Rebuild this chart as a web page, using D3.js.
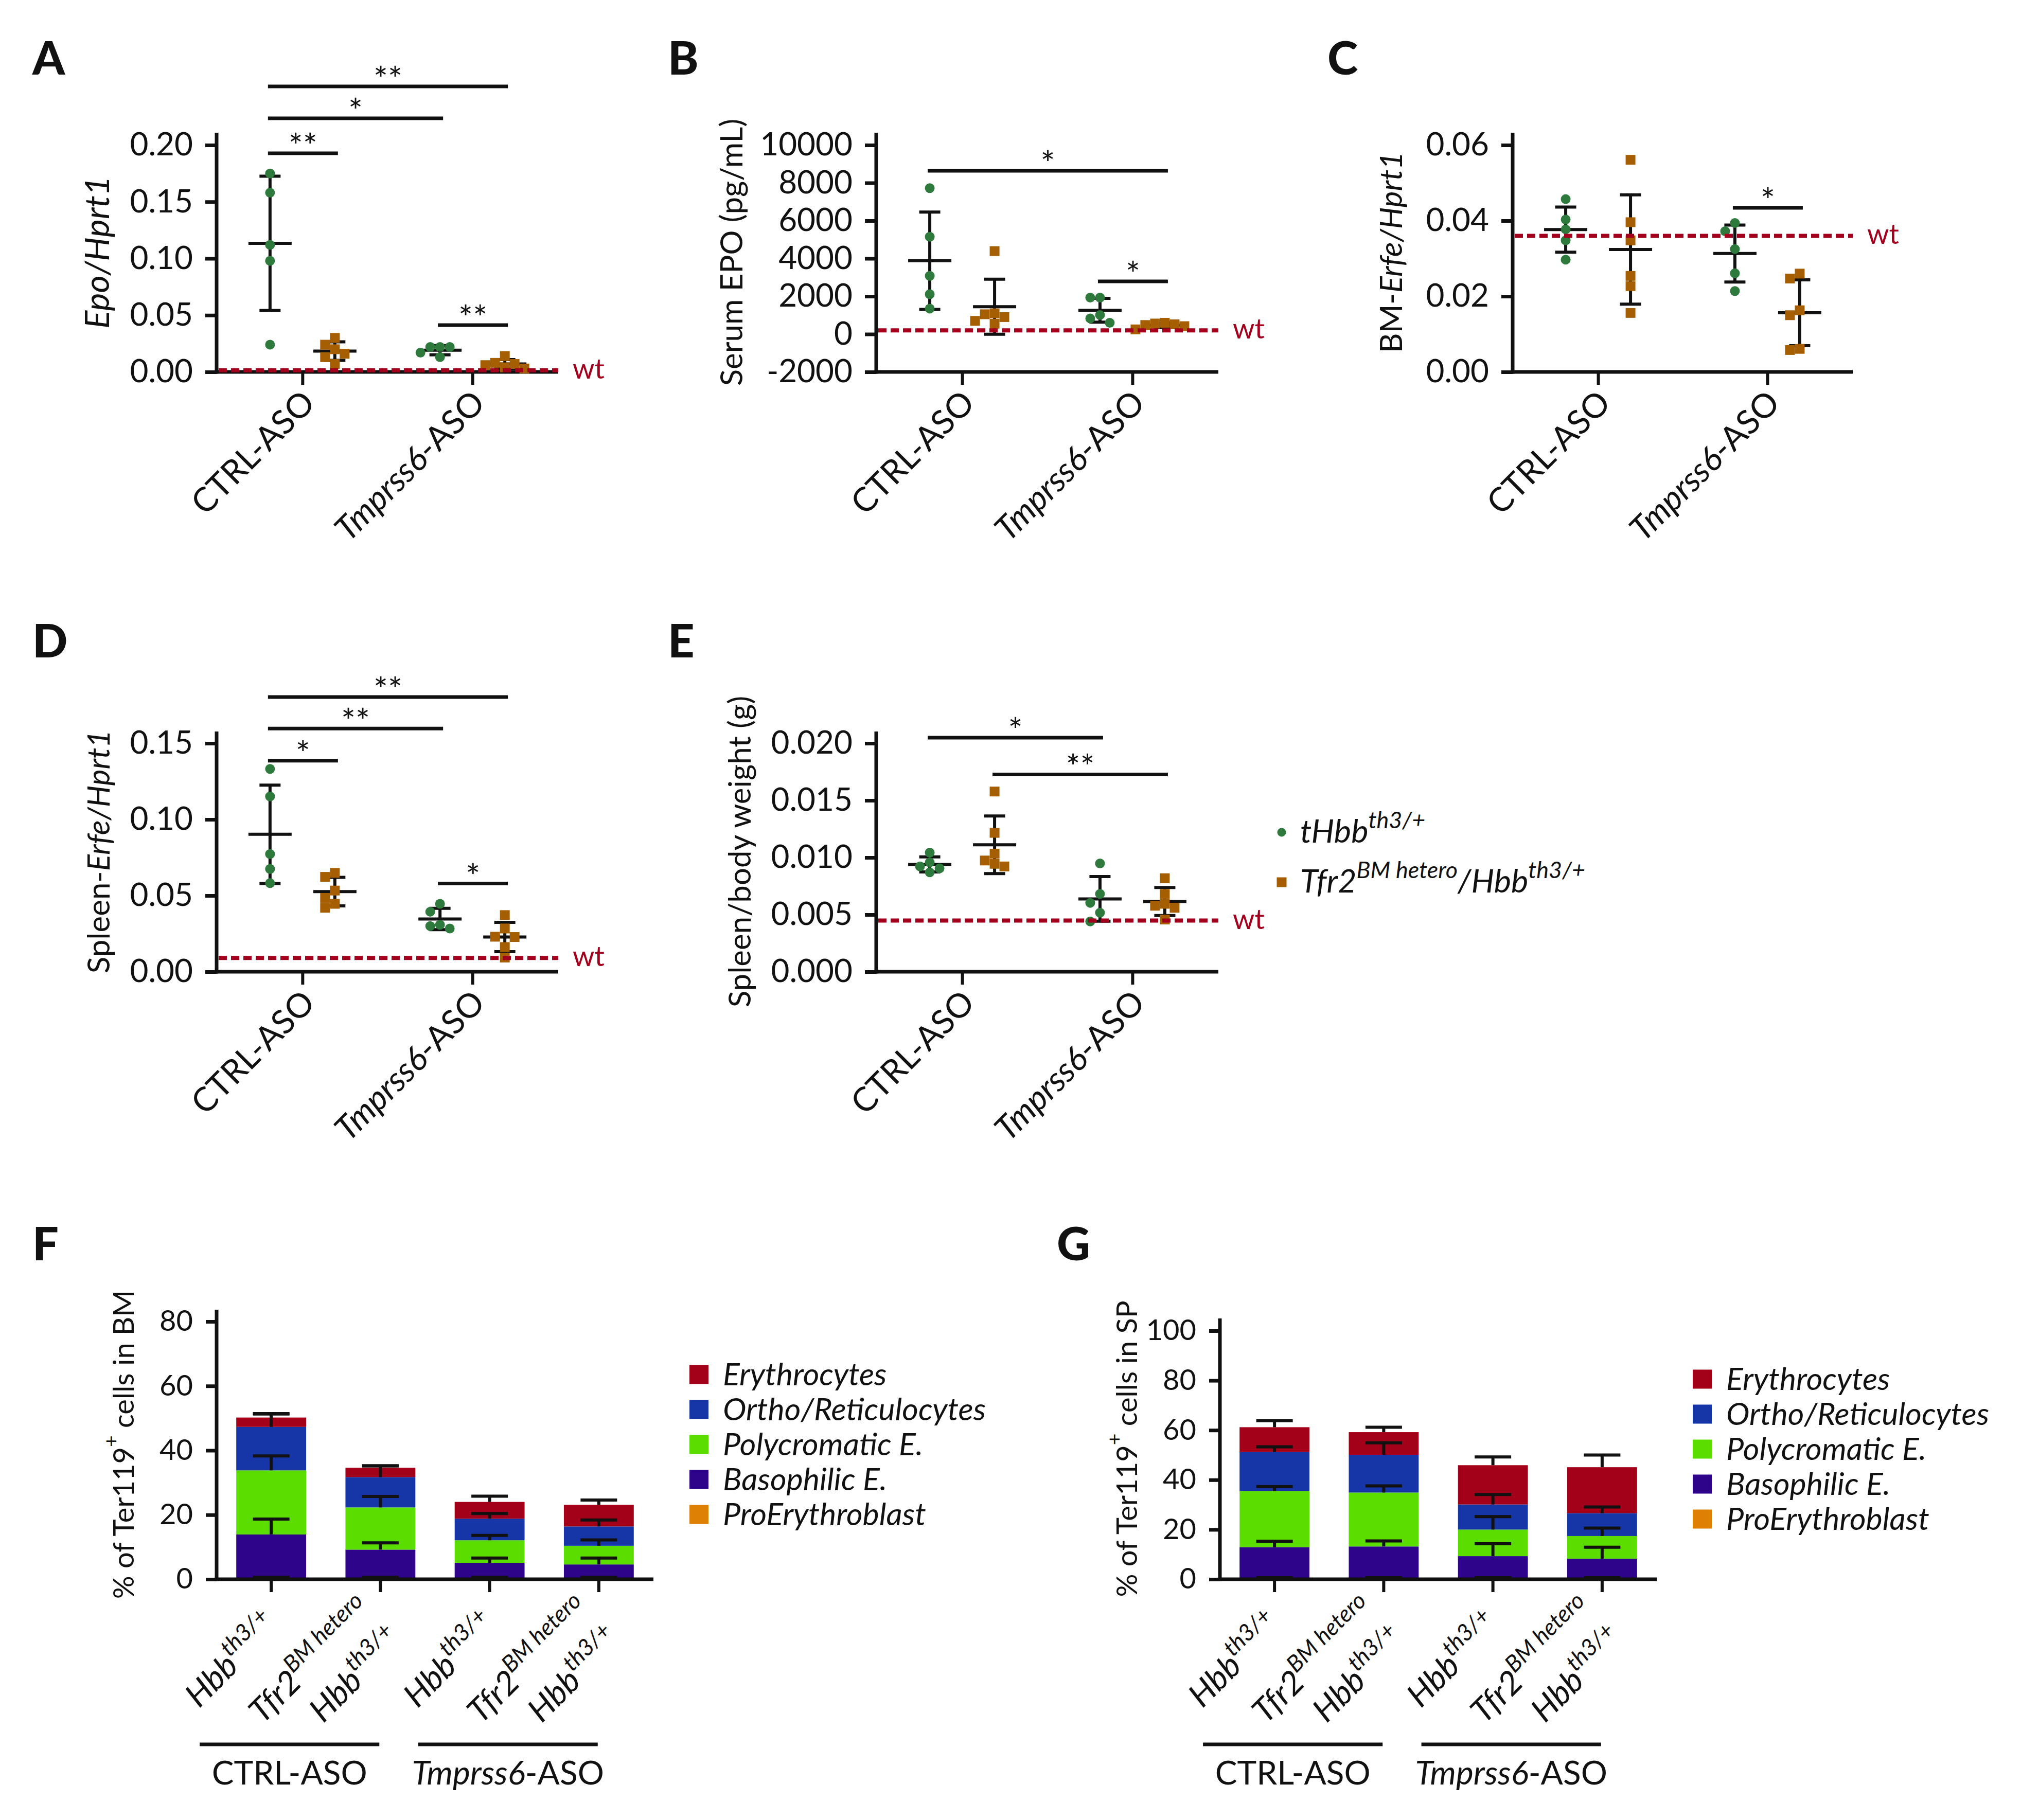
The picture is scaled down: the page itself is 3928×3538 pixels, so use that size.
<!DOCTYPE html>
<html><head><meta charset="utf-8">
<script src="https://cdn.jsdelivr.net/npm/d3@7"></script>
<style>
body{margin:0;background:#fff;}
</style></head><body>
<svg id="fig" width="3928" height="3538" style="background:#fff"></svg>
<script>
// ================= DATA =================
const categories = ["CTRL-ASO", "Tmprss6-ASO"];
const genotypes = ["Hbb th3/+", "Tfr2 BM hetero/Hbb th3/+"];

// A: Epo/Hprt1
const epoCtrlHbb = [0.175, 0.158, 0.112, 0.098, 0.024];
const epoCtrlTfr2 = [0.030, 0.024, 0.020, 0.016, 0.013, 0.007];
const epoTmpHbb = [0.022, 0.022, 0.022, 0.017, 0.013];
const epoTmpTfr2 = [0.014, 0.008, 0.007, 0.006, 0.004, 0.003];
const epoWt = 0.0015;
const epoTicks = [0, 0.05, 0.10, 0.15, 0.20];
const sigA = [
  {from: [0, 0], to: [1, 1], level: 0.2517, mark: "**"},
  {from: [0, 0], to: [1, 0], level: 0.2236, mark: "*"},
  {from: [0, 0], to: [0, 1], level: 0.1927, mark: "**"},
  {from: [1, 0], to: [1, 1], level: 0.0413, mark: "**"}
];

// B: Serum EPO (pg/mL)
const serumCtrlHbb = [7720, 5150, 3080, 2110, 1350];
const serumCtrlTfr2 = [4390, 1100, 1050, 900, 700, 550];
const serumTmpHbb = [1930, 1930, 1010, 830, 600];
const serumTmpTfr2 = [600, 560, 520, 480, 420, 250];
const serumWt = 200;
const serumTicks = [-2000, 0, 2000, 4000, 6000, 8000, 10000];
const sigB = [
  {from: [0, 0], to: [1, 1], level: 8640, mark: "*"},
  {from: [1, 0], to: [1, 1], level: 2790, mark: "*"}
];

// C: BM-Erfe/Hprt1
const bmErfeCtrlHbb = [0.0457, 0.0403, 0.0377, 0.0348, 0.0297];
const bmErfeCtrlTfr2 = [0.0561, 0.0396, 0.0348, 0.0254, 0.0227, 0.0156];
const bmErfeTmpHbb = [0.0394, 0.0372, 0.0325, 0.0261, 0.0214];
const bmErfeTmpTfr2 = [0.0260, 0.0247, 0.0163, 0.0150, 0.0061, 0.0058];
const bmErfeWt = 0.036;
const bmErfeTicks = [0, 0.02, 0.04, 0.06];
const sigC = [{from: [1, 0], to: [1, 1], level: 0.0434, mark: "*"}];

// D: Spleen-Erfe/Hprt1
const spErfeCtrlHbb = [0.1332, 0.1151, 0.0773, 0.0675, 0.0582];
const spErfeCtrlTfr2 = [0.0649, 0.0623, 0.0533, 0.0485, 0.0446, 0.0420];
const spErfeTmpHbb = [0.0446, 0.0394, 0.0308, 0.0300, 0.0284];
const spErfeTmpTfr2 = [0.0372, 0.0284, 0.0230, 0.0228, 0.0162, 0.0093];
const spErfeWt = 0.009;
const spErfeTicks = [0, 0.05, 0.10, 0.15];
const sigD = [
  {from: [0, 0], to: [1, 1], level: 0.1804, mark: "**"},
  {from: [0, 0], to: [1, 0], level: 0.1597, mark: "**"},
  {from: [0, 0], to: [0, 1], level: 0.1386, mark: "*"},
  {from: [1, 0], to: [1, 1], level: 0.0579, mark: "*"}
];

// E: Spleen/body weight (g)
const swCtrlHbb = [0.01043, 0.00957, 0.00922, 0.00905, 0.00870];
const swCtrlTfr2 = [0.01578, 0.01216, 0.01034, 0.00974, 0.00945, 0.00922];
const swTmpHbb = [0.00948, 0.00681, 0.00603, 0.00517, 0.00440];
const swTmpTfr2 = [0.00819, 0.00681, 0.00595, 0.00578, 0.00560, 0.00457];
const swWt = 0.00448;
const swTicks = [0, 0.005, 0.010, 0.015, 0.020];
const sigE = [
  {from: [0, 0], to: [1, 0], level: 0.0205, mark: "*"},
  {from: [0, 1], to: [1, 1], level: 0.01728, mark: "**"}
];

// F/G: stacked erythroid stages
const barGroups = ["CTRL Hbb", "CTRL Tfr2/Hbb", "Tmprss6 Hbb", "Tmprss6 Tfr2/Hbb"];
const stageKeys = ["ProErythroblast", "Basophilic E.", "Polycromatic E.", "Ortho/Reticulocytes", "Erythrocytes"];
const legendOrder = ["Erythrocytes", "Ortho/Reticulocytes", "Polycromatic E.", "Basophilic E.", "ProErythroblast"];

const bmPro = [0.2, 0.2, 0.2, 0.2];
const bmBaso = [13.7, 9.0, 4.9, 4.4];
const bmPoly = [19.9, 13.1, 7.0, 5.8];
const bmOrtho = [13.5, 9.4, 6.7, 6.0];
const bmEry = [2.9, 2.9, 5.2, 6.7];
const bmProErr = [0.4, 0.4, 0.4, 0.4];
const bmBasoErr = [4.8, 2.1, 1.5, 2.0];
const bmPolyErr = [4.5, 3.4, 1.5, 1.8];
const bmOrthoErr = [4.0, 3.5, 1.6, 2.0];
const bmEryErr = [1.2, 0.6, 1.8, 1.5];
const bmTicks = [0, 20, 40, 60, 80];

const spPro = [0.2, 0.2, 0.2, 0.2];
const spBaso = [12.7, 13.0, 9.1, 8.1];
const spPoly = [22.6, 21.7, 10.7, 9.1];
const spOrtho = [15.7, 15.2, 10.1, 9.2];
const spEry = [10.0, 9.1, 15.8, 18.5];
const spProErr = [0.4, 0.4, 0.4, 0.4];
const spBasoErr = [2.4, 2.2, 5.0, 4.6];
const spPolyErr = [1.8, 2.7, 5.2, 3.2];
const spOrthoErr = [2.1, 4.8, 4.0, 2.5];
const spEryErr = [2.6, 2.0, 3.3, 4.9];
const spTicks = [0, 20, 40, 60, 80, 100];

const barLabelLines = [
  [[{t: "Hbb", it: 1}, {t: "th3/+", it: 1, sup: 1}]],
  [[{t: "Tfr2", it: 1}, {t: "BM hetero", it: 1, sup: 1}], [{t: "Hbb", it: 1}, {t: "th3/+", it: 1, sup: 1}]],
  [[{t: "Hbb", it: 1}, {t: "th3/+", it: 1, sup: 1}]],
  [[{t: "Tfr2", it: 1}, {t: "BM hetero", it: 1, sup: 1}], [{t: "Hbb", it: 1}, {t: "th3/+", it: 1, sup: 1}]]
];
const treatmentSpans = [
  {from: 0, to: 1, parts: [{t: "CTRL-ASO"}]},
  {from: 2, to: 3, parts: [{t: "Tmprss6", it: 1}, {t: "-ASO"}]}
];

// ================= STYLE =================
const FONT = "Lato, 'Open Sans', 'DejaVu Sans', sans-serif";
const INK = "#111111";
const GREEN = "#2E7A3D";
const ORANGE = "#A65E02";
const WTRED = "#A3001E";
const stageColors = {
  "ProErythroblast": "#DD8004",
  "Basophilic E.": "#2E048A",
  "Polycromatic E.": "#5CDD00",
  "Ortho/Reticulocytes": "#1636A8",
  "Erythrocytes": "#A30019"
};

const svg = d3.select("#fig").attr("font-family", FONT);

function rich(textSel, parts, size, supSize) {
  let raised = false;
  parts.forEach(p => {
    const ts = textSel.append("tspan").text(p.t)
      .attr("font-style", p.it ? "italic" : "normal")
      .attr("font-size", p.sup ? supSize : size);
    if (p.sup && !raised) { ts.attr("dy", -0.45 * size); raised = true; }
    else if (!p.sup && raised) { ts.attr("dy", 0.45 * size); raised = false; }
  });
}

function panelLetter(letter, x, y) {
  svg.append("text").attr("x", x).attr("y", y).text(letter)
    .attr("font-size", 90).attr("font-weight", 900).attr("fill", INK);
}

function yLabel(x, y, parts, size) {
  const t = svg.append("text").attr("transform", `translate(${x},${y}) rotate(-90)`)
    .attr("text-anchor", "middle").attr("dominant-baseline", "central").attr("fill", INK);
  rich(t, parts, size, size * 0.7);
}

function swarm(vals, y, dmin, step) {
  const order = vals.map((v, i) => ({v, i, py: y(v)})).sort((a, b) => a.py - b.py);
  const placed = [];
  const cand = [0, -step, step, -2 * step, 2 * step, -3 * step, 3 * step];
  order.forEach(p => {
    p.dx = 0;
    for (const c of cand) {
      if (placed.every(q => Math.hypot(q.dx - c, q.py - p.py) >= dmin)) { p.dx = c; break; }
    }
    placed.push(p);
  });
  return order;
}

// ================= SCATTER PANELS =================
function scatterPanel(L, P) {
  const g = svg.append("g");
  const y = d3.scaleLinear().domain(P.domain).range([L.yB, L.yT]);
  const x = d3.scalePoint().domain(categories).range([L.x0, L.x1]).padding(0.505);
  const dx = d3.scalePoint().domain(genotypes).range([-63, 63]);

  // y axis
  const ax = g.append("g").attr("transform", `translate(${L.x0},0)`)
    .call(d3.axisLeft(y).tickValues(P.ticks).tickFormat(P.fmt).tickSize(22).tickSizeOuter(0).tickPadding(24));
  ax.select(".domain").remove();
  ax.selectAll(".tick line").attr("stroke", INK).attr("stroke-width", 7);
  ax.selectAll(".tick text").attr("font-size", 62).attr("fill", INK).attr("font-family", FONT);
  g.append("line").attr("x1", L.x0).attr("x2", L.x0).attr("y1", L.yAT).attr("y2", L.yB + 3.5)
    .attr("stroke", INK).attr("stroke-width", 7);
  // x axis
  const bx = g.append("g").attr("transform", `translate(0,${L.yB})`)
    .call(d3.axisBottom(x).tickSize(25).tickSizeOuter(0).tickFormat(""));
  bx.select(".domain").remove();
  bx.selectAll(".tick line").attr("stroke", INK).attr("stroke-width", 6);
  g.append("line").attr("x1", L.x0 - 3.5).attr("x2", L.x1).attr("y1", L.yB).attr("y2", L.yB)
    .attr("stroke", INK).attr("stroke-width", 7);

  // category labels
  categories.forEach((c, ci) => {
    const t = g.append("text")
      .attr("transform", `translate(${x(c) + 28},${L.yB + 64}) rotate(-45)`)
      .attr("text-anchor", "end").attr("fill", INK);
    const parts = ci === 0 ? [{t: "CTRL-ASO"}] : [{t: "Tmprss6", it: 1}, {t: "-ASO"}];
    rich(t, parts, 65, 45);
  });

  // error bars (mean +/- SD)
  categories.forEach((c, ci) => genotypes.forEach((gt, gi) => {
    const vals = P.values[ci][gi];
    const cx = x(c) + dx(gt);
    const m = d3.mean(vals), sd = d3.deviation(vals);
    const eg = g.append("g").attr("stroke", INK).attr("stroke-width", 6);
    eg.append("line").attr("x1", cx).attr("x2", cx).attr("y1", y(m - sd)).attr("y2", y(m + sd));
    [m - sd, m + sd].forEach(v => eg.append("line").attr("x1", cx - 20.5).attr("x2", cx + 20.5).attr("y1", y(v)).attr("y2", y(v)));
    eg.append("line").attr("x1", cx - 42).attr("x2", cx + 42).attr("y1", y(m)).attr("y2", y(m));
  }));

  // points
  categories.forEach((c, ci) => genotypes.forEach((gt, gi) => {
    const vals = P.values[ci][gi];
    const cx = x(c) + dx(gt);
    const pts = swarm(vals, y, 18, 19);
    if (gi === 0) {
      g.selectAll(null).data(pts).join("ellipse")
        .attr("cx", d => cx + d.dx).attr("cy", d => d.py).attr("rx", 9.5).attr("ry", 9.5).attr("fill", GREEN);
    } else {
      g.selectAll(null).data(pts).join("rect")
        .attr("x", d => cx + d.dx - 9.5).attr("y", d => d.py - 9.5).attr("width", 19).attr("height", 19).attr("fill", ORANGE);
    }
  }));

  // wt reference line
  g.append("line").attr("x1", L.x0 + 4).attr("x2", L.x1).attr("y1", y(P.wt)).attr("y2", y(P.wt))
    .attr("stroke", WTRED).attr("stroke-width", 8).attr("stroke-dasharray", "16,8");
  g.append("text").attr("x", L.x1 + 28).attr("y", y(P.wt) + 16).text("wt")
    .attr("font-size", 54).attr("fill", WTRED);

  // significance bars
  P.sig.forEach(s => {
    const xa = x(categories[s.from[0]]) + dx(genotypes[s.from[1]]) - 4;
    const xb = x(categories[s.to[0]]) + dx(genotypes[s.to[1]]) + 6;
    const yy = y(s.level);
    g.append("line").attr("x1", xa).attr("x2", xb).attr("y1", yy).attr("y2", yy)
      .attr("stroke", INK).attr("stroke-width", 7);
    g.append("text").attr("x", (xa + xb) / 2).attr("y", yy + 10).attr("text-anchor", "middle")
      .attr("font-size", 66).attr("fill", INK).text(s.mark);
  });

  yLabel(L.ylabX, (L.yAT + L.yB) / 2, P.ylabel, P.ylabSize || 60);
  panelLetter(L.letter, L.letterX, L.letterY);
}

const f2 = d3.format(".2f"), f3 = d3.format(".3f");
const row1 = {yB: 723, yT: 282, yAT: 258, letterY: 145};
const row2 = {yB: 1889, yT: 1445, yAT: 1422, letterY: 1278};

scatterPanel({...row1, x0: 421, x1: 1085, ylabX: 186, letter: "A", letterX: 63},
  {domain: [0, 0.2], ticks: epoTicks, fmt: f2, wt: epoWt, sig: sigA, ylabSize: 66,
   values: [[epoCtrlHbb, epoCtrlTfr2], [epoTmpHbb, epoTmpTfr2]],
   ylabel: [{t: "Epo/Hprt1", it: 1}]});
scatterPanel({...row1, x0: 1703, x1: 2368, ylabX: 1420, letter: "B", letterX: 1298},
  {domain: [-2000, 10000], ticks: serumTicks, fmt: d => String(d), wt: serumWt, sig: sigB,
   values: [[serumCtrlHbb, serumCtrlTfr2], [serumTmpHbb, serumTmpTfr2]],
   ylabel: [{t: "Serum EPO (pg/mL)"}]});
scatterPanel({...row1, x0: 2940, x1: 3601, ylabX: 2702, letter: "C", letterX: 2580},
  {domain: [0, 0.06], ticks: bmErfeTicks, fmt: f2, wt: bmErfeWt, sig: sigC,
   values: [[bmErfeCtrlHbb, bmErfeCtrlTfr2], [bmErfeTmpHbb, bmErfeTmpTfr2]],
   ylabel: [{t: "BM-"}, {t: "Erfe/Hprt1", it: 1}]});
scatterPanel({...row2, x0: 421, x1: 1085, ylabX: 190, letter: "D", letterX: 63},
  {domain: [0, 0.15], ticks: spErfeTicks, fmt: f2, wt: spErfeWt, sig: sigD,
   values: [[spErfeCtrlHbb, spErfeCtrlTfr2], [spErfeTmpHbb, spErfeTmpTfr2]],
   ylabel: [{t: "Spleen-"}, {t: "Erfe/Hprt1", it: 1}]});
scatterPanel({...row2, x0: 1703, x1: 2368, ylabX: 1436, letter: "E", letterX: 1298},
  {domain: [0, 0.02], ticks: swTicks, fmt: f3, wt: swWt, sig: sigE,
   values: [[swCtrlHbb, swCtrlTfr2], [swTmpHbb, swTmpTfr2]],
   ylabel: [{t: "Spleen/body weight (g)"}]});

// legend for scatter panels
(function () {
  const lg = svg.append("g");
  lg.append("ellipse").attr("cx", 2491).attr("cy", 1618).attr("rx", 8.5).attr("ry", 8.5).attr("fill", GREEN);
  lg.append("rect").attr("x", 2481.5).attr("y", 1705.5).attr("width", 19).attr("height", 19).attr("fill", ORANGE);
  const t1 = lg.append("text").attr("x", 2527).attr("y", 1638).attr("fill", INK);
  rich(t1, [{t: "tHbb", it: 1}, {t: "th3/+", it: 1, sup: 1}], 63, 45);
  const t2 = lg.append("text").attr("x", 2527).attr("y", 1735).attr("fill", INK);
  rich(t2, [{t: "Tfr2", it: 1}, {t: "BM hetero", it: 1, sup: 1}, {t: "/Hbb", it: 1}, {t: "th3/+", it: 1, sup: 1}], 63, 45);
})();

// ================= STACKED BAR PANELS =================
function stackPanel(L, S) {
  const g = svg.append("g");
  const rows = barGroups.map((b, i) => {
    const r = {group: b};
    stageKeys.forEach((k, j) => { r[k] = S.vals[j][i]; });
    return r;
  });
  const series = d3.stack().keys(stageKeys)(rows);
  const x = d3.scaleBand().domain(barGroups).range([L.x0, L.x1]).paddingInner(0.36).paddingOuter(0.18);
  const y = d3.scaleLinear().domain(S.domain).range([L.yB, L.yT]);

  series.forEach(s => {
    g.selectAll(null).data(s).join("rect")
      .attr("x", d => x(d.data.group)).attr("width", x.bandwidth())
      .attr("y", d => y(d[1])).attr("height", d => Math.max(0, y(d[0]) - y(d[1])))
      .attr("fill", stageColors[s.key]);
  });
  // error bars
  series.forEach((s, j) => s.forEach((d, i) => {
    const e = S.errs[j][i];
    const cx = x(d.data.group) + x.bandwidth() / 2;
    const eg = g.append("g").attr("stroke", INK).attr("stroke-width", 6);
    eg.append("line").attr("x1", cx).attr("x2", cx).attr("y1", y(d[1])).attr("y2", y(d[1] + e));
    eg.append("line").attr("x1", cx - 35.5).attr("x2", cx + 35.5).attr("y1", y(d[1] + e)).attr("y2", y(d[1] + e));
  }));

  // axes
  const ax = g.append("g").attr("transform", `translate(${L.x0},0)`)
    .call(d3.axisLeft(y).tickValues(S.ticks).tickSize(21).tickSizeOuter(0).tickPadding(25));
  ax.select(".domain").remove();
  ax.selectAll(".tick line").attr("stroke", INK).attr("stroke-width", 7);
  ax.selectAll(".tick text").attr("font-size", 56).attr("fill", INK).attr("font-family", FONT);
  g.append("line").attr("x1", L.x0).attr("x2", L.x0).attr("y1", L.yAT).attr("y2", L.yB + 3.5)
    .attr("stroke", INK).attr("stroke-width", 7);
  const bx = g.append("g").attr("transform", `translate(0,${L.yB})`)
    .call(d3.axisBottom(x).tickSize(25).tickSizeOuter(0).tickFormat(""));
  bx.select(".domain").remove();
  bx.selectAll(".tick line").attr("stroke", INK).attr("stroke-width", 6);
  g.append("line").attr("x1", L.x0 - 3.5).attr("x2", L.x1).attr("y1", L.yB).attr("y2", L.yB)
    .attr("stroke", INK).attr("stroke-width", 7);

  // rotated bar labels
  const LH = 82;
  barGroups.forEach((b, i) => {
    const lines = barLabelLines[i];
    const n = lines.length;
    const cx = x(b) + x.bandwidth() / 2;
    lines.forEach((parts, k) => {
      const off = (k - (n - 1) / 2) * LH * Math.SQRT1_2;
      const t = g.append("text")
        .attr("transform", `translate(${cx + 18 + off},${L.yB + 94 + off}) rotate(-45)`)
        .attr("text-anchor", "end").attr("fill", INK);
      rich(t, parts, 64, 45);
    });
  });
  // treatment brackets
  const step = x.step();
  treatmentSpans.forEach(sp => {
    const xa = x(barGroups[sp.from]) + x.bandwidth() / 2 - 0.655 * step;
    const xb = x(barGroups[sp.to]) + x.bandwidth() / 2 - 0.01 * step;
    g.append("line").attr("x1", xa).attr("x2", xb).attr("y1", L.yB + 321).attr("y2", L.yB + 321)
      .attr("stroke", INK).attr("stroke-width", 7);
    const t = g.append("text").attr("x", (xa + xb) / 2).attr("y", L.yB + 399)
      .attr("text-anchor", "middle").attr("fill", INK);
    rich(t, sp.parts, 64, 45);
  });

  // legend
  legendOrder.forEach((k, r) => {
    const cy = L.legY + r * 68;
    g.append("rect").attr("x", L.legX).attr("y", cy - 18.5).attr("width", 37).attr("height", 37)
      .attr("fill", stageColors[k]);
    g.append("text").attr("x", L.legX + 65).attr("y", cy + 21).attr("font-size", 61)
      .attr("font-style", "italic").attr("fill", INK).text(k);
  });

  yLabel(L.ylabX, (L.yAT + L.yB) / 2, S.ylabel, 56);
  panelLetter(L.letter, L.letterX, L.letterY);
}

stackPanel({x0: 421, x1: 1270, yB: 3070, yT: 2569, yAT: 2546, ylabX: 238, legX: 1340, legY: 2672,
            letter: "F", letterX: 63, letterY: 2450},
  {domain: [0, 80], ticks: bmTicks,
   vals: [bmPro, bmBaso, bmPoly, bmOrtho, bmEry],
   errs: [bmProErr, bmBasoErr, bmPolyErr, bmOrthoErr, bmEryErr],
   ylabel: [{t: "% of Ter119"}, {t: "+", sup: 1}, {t: " cells in BM"}]});
stackPanel({x0: 2371, x1: 3220, yB: 3070, yT: 2587, yAT: 2563, ylabX: 2188, legX: 3290, legY: 2681,
            letter: "G", letterX: 2054, letterY: 2450},
  {domain: [0, 100], ticks: spTicks,
   vals: [spPro, spBaso, spPoly, spOrtho, spEry],
   errs: [spProErr, spBasoErr, spPolyErr, spOrthoErr, spEryErr],
   ylabel: [{t: "% of Ter119"}, {t: "+", sup: 1}, {t: " cells in SP"}]});
</script>
</body></html>
